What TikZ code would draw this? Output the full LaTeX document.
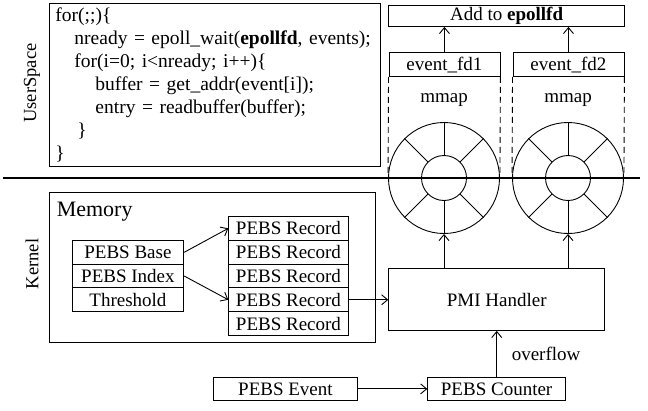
\documentclass[tikz,border=0pt]{standalone}
\usepackage{fontspec}
\setmainfont{Liberation Serif}
\usetikzlibrary{arrows.meta}

\begin{document}
\begin{tikzpicture}[x=1pt,y=-1pt,
  line width=0.9pt,
  every node/.style={font=\fontsize{19}{23}\selectfont},
  box/.style={draw, rectangle, inner sep=0pt, anchor=north west},
  arr/.style={-{Straight Barb[length=6pt,width=10pt]}},
  ring/.style={draw, circle, inner sep=0pt, minimum size=111pt},
  hub/.style={draw, circle, inner sep=0pt, minimum size=45pt},
  sidelabel/.style={rotate=90, font=\fontsize{18.5}{22}\selectfont}
]
\useasboundingbox (0,0) rectangle (648,410);

% ---------- user space ----------
\node[sidelabel] (us) at (32,83) {UserSpace};
\node[box, minimum width=331pt, minimum height=162.4pt, text width=319pt,
      inner xsep=6pt, align=left, font=\fontsize{19.5}{23}\selectfont]
  (code) at (49,3.3) {%
for(;;)\{\\
\hspace*{19pt}nready = epoll\_wait(\textbf{epollfd}, events);\\
\hspace*{19pt}for(i=0; i<nready; i++)\{\\
\hspace*{40pt}buffer = get\_addr(event[i]);\\
\hspace*{40pt}entry = readbuffer(buffer);\\
\hspace*{22pt}\}\\
\}};

\node[box, minimum width=235.7pt, minimum height=21pt] (add) at (388.3,5) {Add to \textbf{epollfd}};
\node[box, minimum width=111pt, minimum height=23.7pt] (fd1) at (388.5,52.3) {event\_fd1};
\node[box, minimum width=111pt, minimum height=23.7pt] (fd2) at (512.5,52.3) {event\_fd2};
\draw[arr] (fd1.north) -- (fd1.north |- add.south);
\draw[arr] (fd2.north) -- (fd2.north |- add.south);

% ---------- ring buffers ----------
\foreach \n/\cx in {1/444, 2/568} {
  \node[ring] (ring\n) at (\cx,178) {};
  \node[hub] (hub\n) at (\cx,178) {};
  \foreach \a in {45,90,135,225,270,315}
    \draw (hub\n.\a) -- (ring\n.\a);
  \node (mmap\n) at (\cx,100) {mmap};
}
\draw[dashed, dash pattern=on 6pt off 4pt] (fd1.south west) -- (ring1.west);
\draw[dashed, dash pattern=on 6pt off 4pt] (fd1.south east) -- (ring1.east);
\draw[dashed, dash pattern=on 6pt off 4pt] (fd2.south west) -- (ring2.west);
\draw[dashed, dash pattern=on 6pt off 4pt] (fd2.south east) -- (ring2.east);

% user / kernel boundary
\coordinate (sepL) at (3,178);
\coordinate (sepR) at (640,178);
\draw[line width=1.6pt] (sepL) -- (sepR);

% ---------- kernel ----------
\node[sidelabel] (kn) at (32,264) {Kernel};
\node[box, minimum width=326pt, minimum height=150.3pt] (mem) at (49,192) {};
\node[anchor=west, font=\fontsize{22}{26}\selectfont] (memlbl) at (53,212) {Memory};

\node[box, minimum width=111.6pt, minimum height=23.7pt] (base) at (71.7,240) {PEBS Base};
\node[box, minimum width=111.6pt, minimum height=23.7pt] (idx)  at (71.7,263.7) {PEBS Index};
\node[box, minimum width=111.6pt, minimum height=23.7pt] (thr)  at (71.7,287.4) {Threshold};

\foreach \i in {1,...,5}
  \node[box, minimum width=119.4pt, minimum height=23.8pt] (rec\i) at (228.3,{216+(\i-1)*23.8}) {PEBS Record};

\draw[arr] (base.east) -- (rec1.west);
\draw[arr] (idx.east) -- (rec4.west);

\node[box, minimum width=216pt, minimum height=61.7pt] (pmi) at (388.3,268.3) {PMI Handler};
\draw[arr] (rec4.east) -- (rec4.east -| pmi.west);
\draw[arr] (pmi.north -| ring1) -- (ring1.south);
\draw[arr] (pmi.north -| ring2) -- (ring2.south);

\node[box, minimum width=137.7pt, minimum height=23.5pt] (cnt) at (427.3,376.7) {PEBS Counter};
\node[box, minimum width=143.4pt, minimum height=23.5pt] (evt) at (213.3,376.7) {PEBS Event};
\draw[arr] (evt.east) -- (cnt.west);
\draw[arr] (cnt.north -| pmi.south) -- (pmi.south);
\node[anchor=west] (ovf) at (508,354) {overflow};
\end{tikzpicture}
\end{document}
